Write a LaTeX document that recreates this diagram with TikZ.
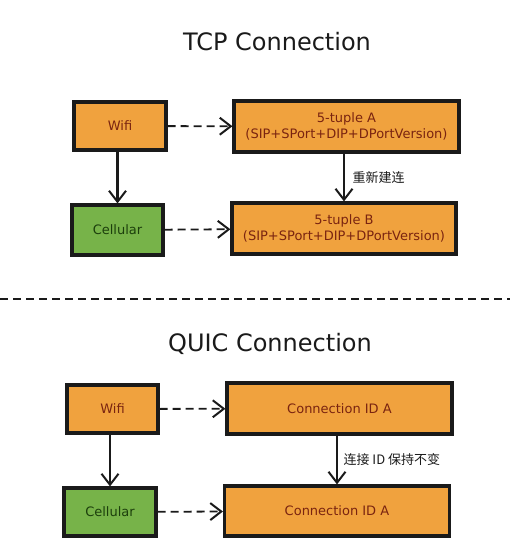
\documentclass[tikz,border=0pt]{standalone}
\usepackage{fontspec}
\setmainfont{DejaVu Sans}
\newfontfamily\cjk{Noto Sans CJK SC}
\usetikzlibrary{arrows.meta, positioning}
\definecolor{corange}{HTML}{F0A23E}
\definecolor{cgreen}{HTML}{77B349}
\definecolor{cbrown}{HTML}{7A2410}
\definecolor{cdkgreen}{HTML}{1C3F0C}
\definecolor{cink}{HTML}{1A1A1A}
\tikzset{
  every picture/.style={line width=1.4pt},
  box/.style={draw=cink, fill=#1, line width=3.2pt, align=center, inner sep=0pt},
  box/.default=corange,
  boxtext/.style={font=\fontsize{13}{16.5}\selectfont, text=cbrown},
  flow/.style={-{Straight Barb[length=11pt, width=17pt, line width=2pt]}, draw=cink, line width=2.4pt},
  link/.style={flow, dashed, dash pattern=on 8pt off 5pt, line width=1.8pt},
  title/.style={font=\fontsize{24}{28}\selectfont, text=cink},
  note/.style={font=\cjk\fontsize{13}{15}\selectfont, text=cink, anchor=west},
}
\begin{document}
\begin{tikzpicture}[x=1pt, y=-1pt]
  \useasboundingbox (0,0) rectangle (510,544);
  % TCP part
  \node[title] (tcptitle) at (277,42) {TCP Connection};
  \node[box, boxtext, minimum width=92pt, minimum height=48pt] (tcpwifi) at (120,126) {Wifi};
  \node[box=cgreen, boxtext, text=cdkgreen, minimum width=91pt, minimum height=50pt] (tcpcell) at (117.5,230) {Cellular};
  \node[box, boxtext, minimum width=225pt, minimum height=51pt] (tupleA) at (346.5,126.5) {5-tuple A\\(SIP+SPort+DIP+DPortVersion)};
  \node[box, boxtext, minimum width=224pt, minimum height=51pt] (tupleB) at (344,228.5) {5-tuple B\\(SIP+SPort+DIP+DPortVersion)};
  \draw[flow] (tcpwifi.south -| tcpcell.north) -- (tcpcell.north);
  \draw[link] (tcpwifi) -- (tupleA);
  \draw[link] (tcpcell) -- (tupleB);
  \draw[flow] (tupleA.south -| tupleB.north) -- node[note, right=4pt] {重新建连} (tupleB.north);
  % separator
  \draw[dashed, dash pattern=on 8pt off 5pt, line width=1.8pt, cink] (0,299) -- (510,299);
  % QUIC part
  \node[title] (quictitle) at (270,344) {QUIC Connection};
  \node[box, boxtext, minimum width=91pt, minimum height=48pt] (quicwifi) at (112.5,409) {Wifi};
  \node[box=cgreen, boxtext, text=cdkgreen, minimum width=92pt, minimum height=48pt] (quiccell) at (110,512) {Cellular};
  \node[box, boxtext, minimum width=225pt, minimum height=51pt] (connA) at (339.5,408.5) {Connection ID A};
  \node[box, boxtext, minimum width=225pt, minimum height=50pt] (connB) at (337,511) {Connection ID A};
  \draw[flow] (quicwifi.south -| quiccell.north) -- (quiccell.north);
  \draw[link] (quicwifi) -- (connA);
  \draw[link] (quiccell) -- (connB);
  \draw[flow] (connA.south -| connB.north) -- node[note, right=2pt] {连接 ID 保持不变} (connB.north);
\end{tikzpicture}
\end{document}
